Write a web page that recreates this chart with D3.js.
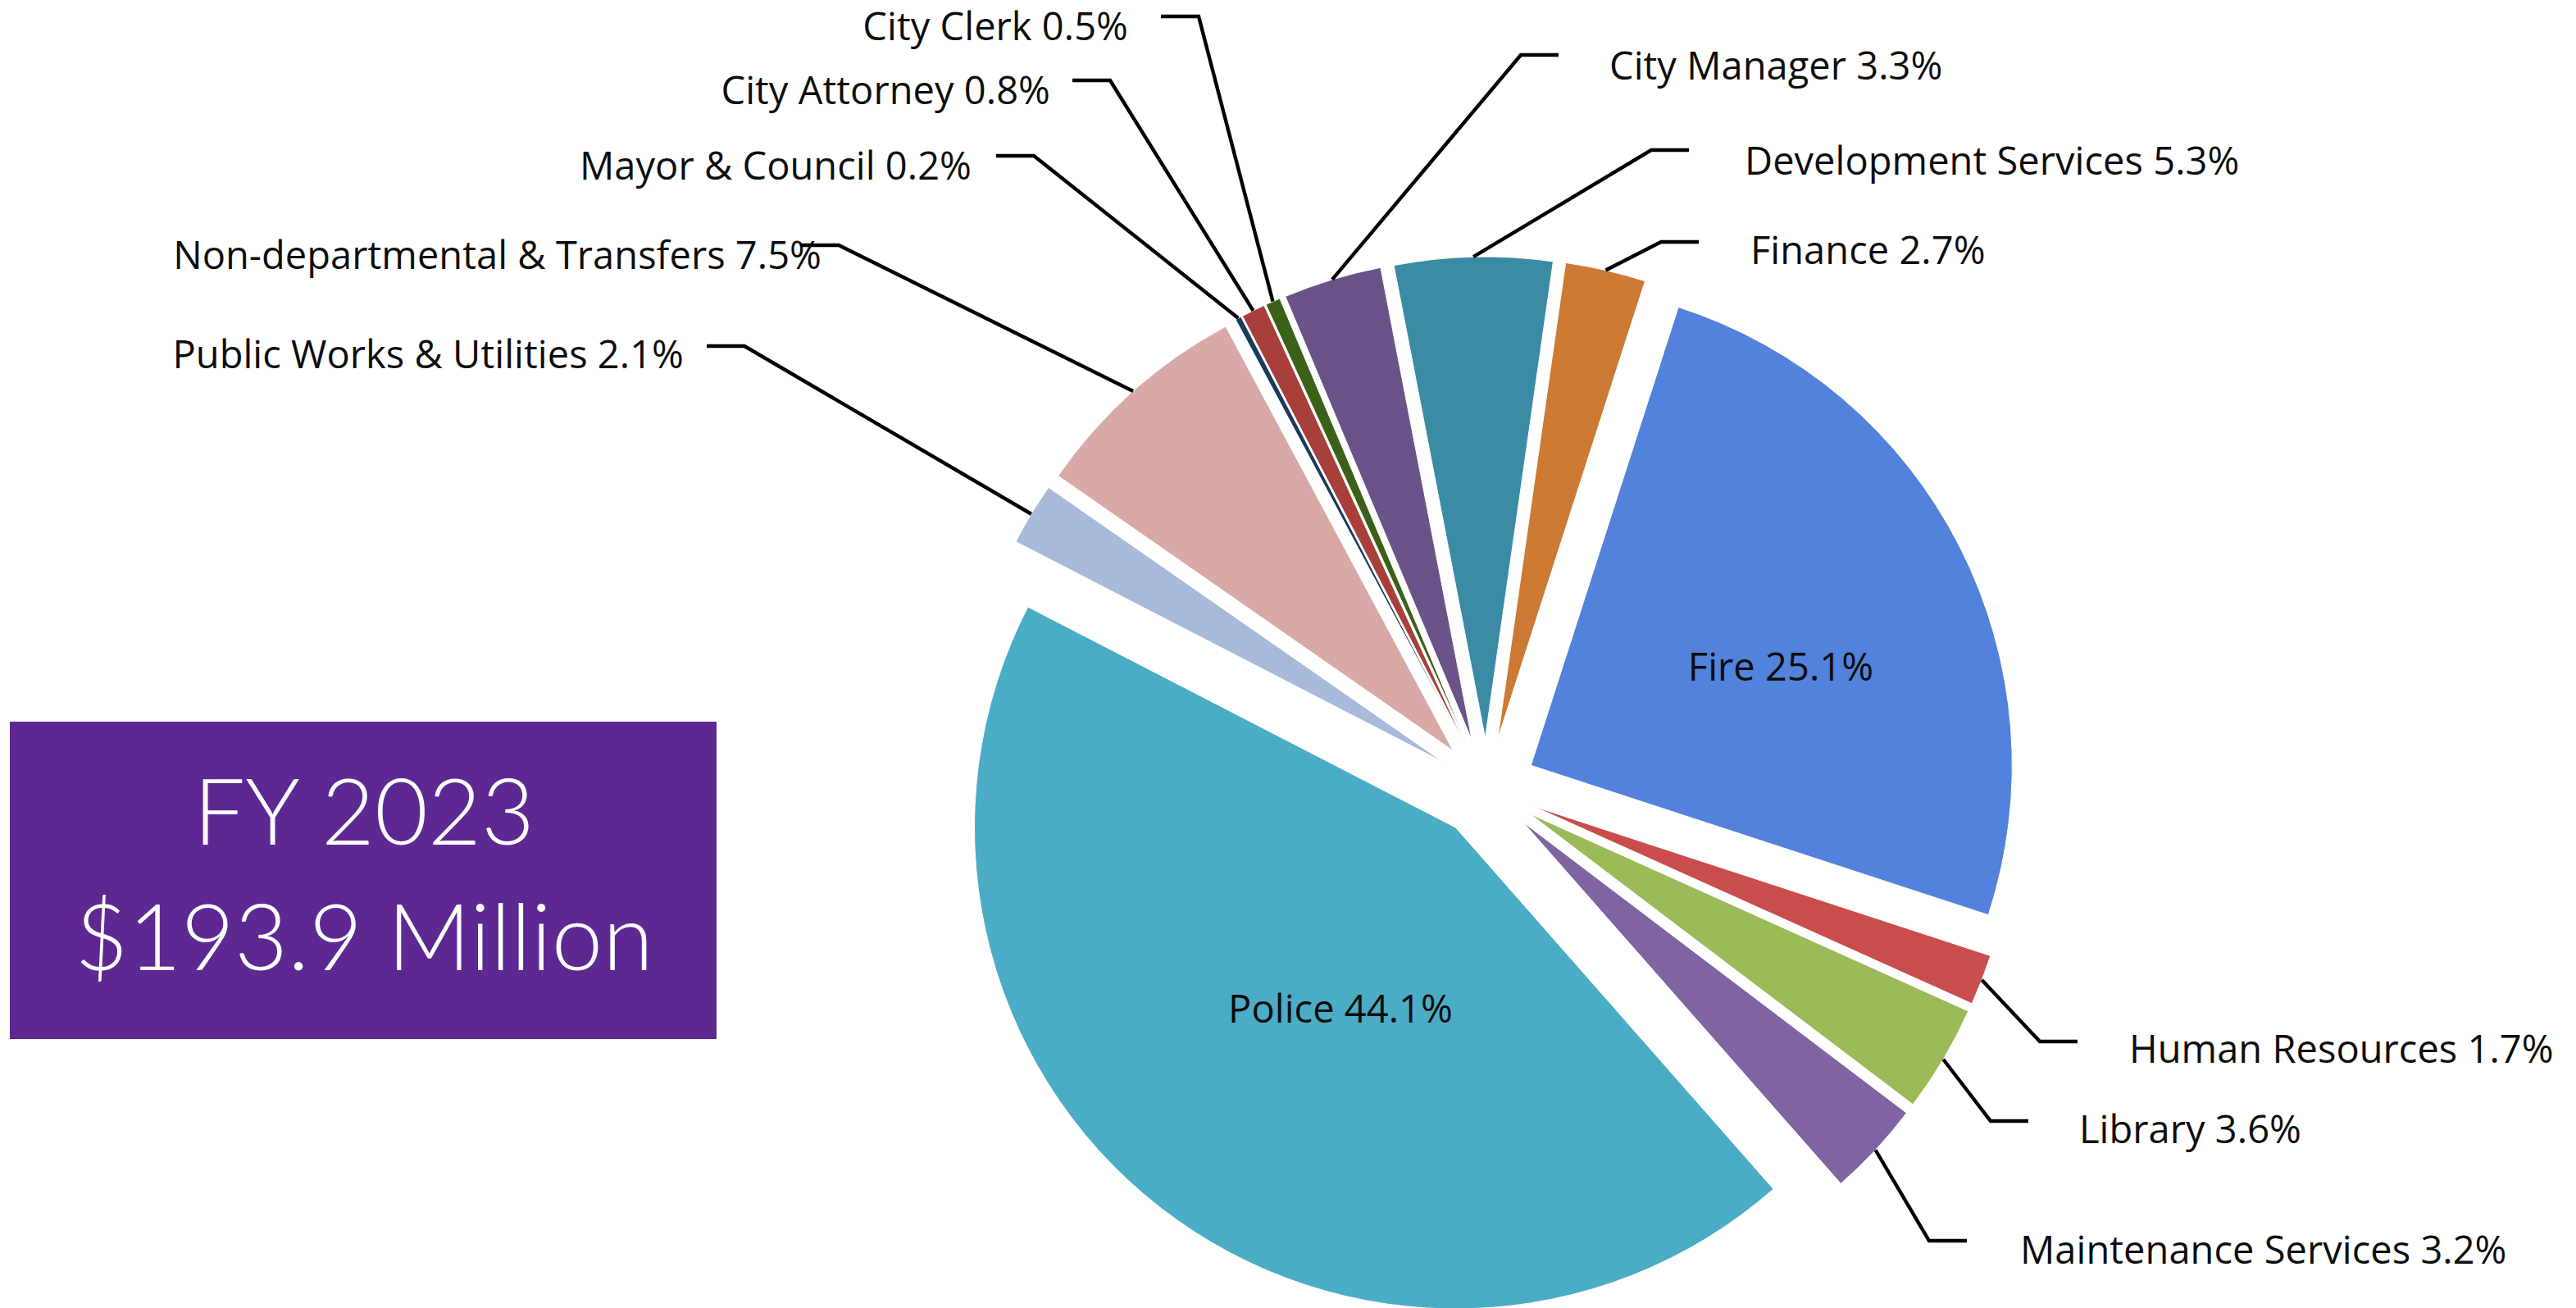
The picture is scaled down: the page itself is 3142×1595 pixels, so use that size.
<!DOCTYPE html>
<html>
<head>
<meta charset="utf-8">
<title>FY 2023 General Fund by Department</title>
<script src="https://cdn.jsdelivr.net/npm/d3@7/dist/d3.min.js"></script>
<style>
  html, body { margin: 0; padding: 0; background: #fff; }
  svg { display: block; }
  .label { font-family: "Open Sans", sans-serif; font-size: 47px; letter-spacing: 0.05px; fill: #0d0d0d; }
  .leader { fill: none; stroke: #000; stroke-width: 4.4; stroke-linejoin: miter; }
  .total { font-family: Lato, sans-serif; font-weight: 300; font-size: 112px; fill: #fff; }
</style>
</head>
<body>
<svg id="chart"></svg>
<script>
// data, in the order the slices run clockwise
var departments = ["Mayor & Council", "City Attorney", "City Clerk", "City Manager",
    "Development Services", "Finance", "Fire", "Human Resources", "Library",
    "Maintenance Services", "Police", "Public Works & Utilities",
    "Non-departmental & Transfers"];
var shares = [0.2, 0.8, 0.5, 3.3, 5.3, 2.7, 25.1, 1.7, 3.6, 3.2, 44.1, 2.1, 7.5];
var sliceColors = ["#1b3a5c", "#a83f3b", "#3b6119", "#6a5388", "#3a8ba3", "#cc7a34",
    "#5282db", "#c94d4d", "#9bbb59", "#8064a2", "#4bacc6", "#a8b9da", "#d9a9a8"];
var titleLines = ["FY 2023", "$193.9 Million"];

var width = 3142;
var height = 1595;

var center = {x: 1813, y: 961};
var radius = 587;
var explode = 61;
var startAngle = -28.2 * Math.PI / 180;

// where each label sits: elbow of the leader line, then text anchor + baseline
var labelLayout = {
    "Mayor & Council":              {side: "left",  elbow: [1261, 190],  text: [1185, 219]},
    "City Attorney":                {side: "left",  elbow: [1354, 98],   text: [1281, 127]},
    "City Clerk":                   {side: "left",  elbow: [1462, 20],   text: [1376, 49]},
    "Non-departmental & Transfers": {side: "left",  elbow: [1023, 299],  text: [1002, 328]},
    "Public Works & Utilities":     {side: "left",  elbow: [908, 422],   text: [834, 449]},
    "City Manager":                 {side: "right", elbow: [1855, 67],   text: [1963, 97]},
    "Development Services":         {side: "right", elbow: [2014, 183],  text: [2128, 213]},
    "Finance":                      {side: "right", elbow: [2026, 295],  text: [2135, 322]},
    "Human Resources":              {side: "right", elbow: [2488, 1270], text: [2597, 1296]},
    "Library":                      {side: "right", elbow: [2428, 1367], text: [2536, 1394]},
    "Maintenance Services":         {side: "right", elbow: [2353, 1513], text: [2464, 1541]},
    "Fire":                         {side: "inside", text: [2172, 812]},
    "Police":                       {side: "inside", text: [1635, 1229]}
};
var hookLength = 46;

var svg = d3.select("#chart")
    .attr("width", width)
    .attr("height", height)
    .attr("viewBox", [0, 0, width, height]);

var rows = departments.map(function(name, i) {
    return {name: name, value: shares[i], color: sliceColors[i]};
});

var pie = d3.pie()
    .sort(null)
    .value(function(d) { return d.value; })
    .startAngle(startAngle)
    .endAngle(startAngle + 2 * Math.PI);

var arc = d3.arc()
    .innerRadius(0)
    .outerRadius(radius);

var arcs = pie(rows);

function midAngle(d) { return (d.startAngle + d.endAngle) / 2; }

// offset of an exploded slice along its bisector
function shift(d) {
    var a = midAngle(d);
    return [explode * Math.sin(a), -explode * Math.cos(a)];
}

var g = svg.append("g")
    .attr("transform", "translate(" + center.x + "," + center.y + ")");

g.selectAll("path.slice")
    .data(arcs)
    .enter().append("path")
        .attr("class", "slice")
        .attr("d", arc)
        .attr("fill", function(d) { return d.data.color; })
        .attr("stroke", "#fff")
        .attr("stroke-width", 1)
        .attr("transform", function(d) {
            var s = shift(d);
            return "translate(" + s[0] + "," + s[1] + ")";
        });

function labelText(d) {
    return d.data.name + " " + d3.format(".1f")(d.data.value) + "%";
}

// leader lines start on the middle of each slice's outer edge
var outside = arcs.filter(function(d) { return labelLayout[d.data.name].side !== "inside"; });

svg.selectAll("path.leader")
    .data(outside)
    .enter().append("path")
        .attr("class", "leader")
        .attr("d", function(d) {
            var lay = labelLayout[d.data.name];
            var a = midAngle(d);
            var s = shift(d);
            var x0 = center.x + s[0] + radius * Math.sin(a);
            var y0 = center.y + s[1] - radius * Math.cos(a);
            var e = lay.elbow;
            var hx = lay.side === "left" ? e[0] - hookLength : e[0] + hookLength;
            return "M" + x0 + "," + y0 + "L" + e[0] + "," + e[1] + "L" + hx + "," + e[1];
        });

svg.selectAll("text.label")
    .data(arcs)
    .enter().append("text")
        .attr("class", "label")
        .attr("x", function(d) { return labelLayout[d.data.name].text[0]; })
        .attr("y", function(d) { return labelLayout[d.data.name].text[1]; })
        .attr("text-anchor", function(d) {
            var side = labelLayout[d.data.name].side;
            if (side === "left") return "end";
            if (side === "inside") return "middle";
            return "start";
        })
        .attr("dominant-baseline", function(d) {
            return labelLayout[d.data.name].side === "inside" ? "central" : "auto";
        })
        .text(labelText);

// total box on the left
var box = {x: 12, y: 880, w: 862, h: 387};

svg.append("rect")
    .attr("x", box.x)
    .attr("y", box.y)
    .attr("width", box.w)
    .attr("height", box.h)
    .attr("fill", "#5e2893");

svg.selectAll("text.total")
    .data(titleLines)
    .enter().append("text")
        .attr("class", "total")
        .attr("x", box.x + box.w / 2 + 1)
        .attr("y", function(d, i) { return 1030 + i * 153; })
        .attr("text-anchor", "middle")
        .text(function(d) { return d; });
</script>
</body>
</html>
